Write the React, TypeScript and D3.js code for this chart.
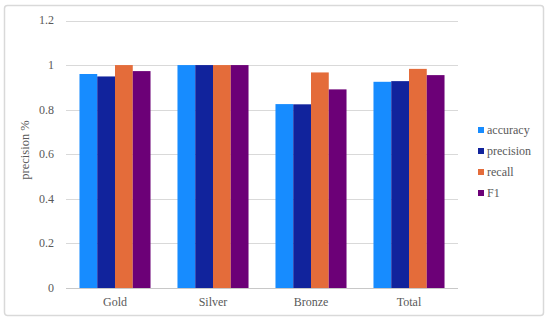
import React from "react";
import * as d3 from "d3";

const categories = ["Gold", "Silver", "Bronze", "Total"];
const seriesNames = ["accuracy", "precision", "recall", "F1"];
const accuracy = [0.96, 1.0, 0.825, 0.925];
const precision = [0.949, 1.0, 0.824, 0.928];
const recall = [1.0, 1.0, 0.967, 0.983];
const f1 = [0.973, 1.0, 0.891, 0.955];
const yTicks = [0, 0.2, 0.4, 0.6, 0.8, 1, 1.2];
const colors = ["#178cff", "#11239c", "#e46c3a", "#6c0077"];

const seriesValues = [accuracy, precision, recall, f1];

export default function App() {
  const W = 550;
  const H = 322;
  const left = 66;
  const right = 458;
  const top = 20.5;
  const bottom = 288;

  const x = d3
    .scaleBand<string>()
    .domain(categories)
    .range([left, right])
    .paddingInner(0.275)
    .paddingOuter(0.1375);
  const xs = d3
    .scaleBand<string>()
    .domain(seriesNames)
    .range([0, x.bandwidth()])
    .padding(0);
  const y = d3.scaleLinear().domain([0, 1.2]).range([bottom, top]);

  const font = "Liberation Serif, DejaVu Serif, serif";
  const textColor = "#595959";

  return (
    <svg
      width={W}
      height={H}
      style={{ position: "absolute", left: 0, top: 0, fontFamily: font }}
    >
      <rect x={0} y={0} width={W} height={H} fill="#fff" />
      <rect
        x={4.5}
        y={5.5}
        width={539}
        height={310}
        rx={3}
        fill="#fff"
        stroke="#d9d9d9"
        strokeWidth={1.5}
      />
      {yTicks.map((t) => (
        <g key={t}>
          {t !== 0 && (
            <line
              x1={left}
              x2={right}
              y1={Math.round(y(t)) + 0.5}
              y2={Math.round(y(t)) + 0.5}
              stroke="#d9d9d9"
              strokeWidth={1}
            />
          )}
          <text
            x={54}
            y={y(t)}
            dy="0.33em"
            textAnchor="end"
            fontSize={12}
            fill={textColor}
            style={{ fontFamily: font }}
          >
            {String(t)}
          </text>
        </g>
      ))}
      {categories.map((c, ci) => (
        <g key={c}>
          {seriesNames.map((s, si) => {
            const v = seriesValues[si][ci];
            return (
              <rect
                key={s}
                x={(x(c) as number) + (xs(s) as number)}
                y={y(v)}
                width={xs.bandwidth()}
                height={bottom - y(v)}
                fill={colors[si]}
              />
            );
          })}
          <text
            x={(x(c) as number) + x.bandwidth() / 2}
            y={306}
            textAnchor="middle"
            fontSize={12}
            fill={textColor}
            style={{ fontFamily: font }}
          >
            {c}
          </text>
        </g>
      ))}
      <line
        x1={left}
        x2={right}
        y1={bottom + 0.5}
        y2={bottom + 0.5}
        stroke="#c8c8c8"
        strokeWidth={1}
      />
      <text
        transform={`translate(29,150) rotate(-90)`}
        textAnchor="middle"
        fontSize={12.5}
        fill={textColor}
        style={{ fontFamily: font }}
      >
        precision %
      </text>
      {seriesNames.map((s, i) => (
        <g key={s} transform={`translate(478,${130 + i * 21})`}>
          <rect x={0} y={-3} width={6} height={6} fill={colors[i]} />
          <text
            x={9}
            y={0}
            dy="0.33em"
            fontSize={12}
            fill={textColor}
            style={{ fontFamily: font }}
          >
            {s}
          </text>
        </g>
      ))}
    </svg>
  );
}
